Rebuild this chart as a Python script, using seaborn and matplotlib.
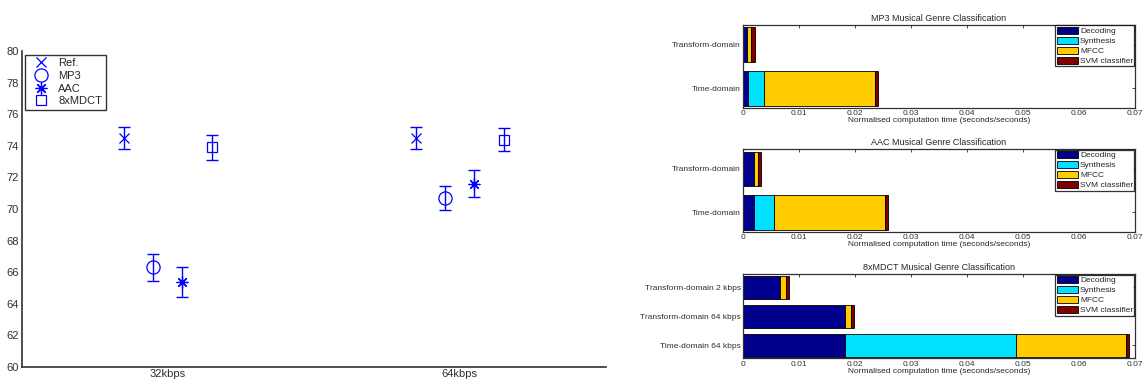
import numpy as np
import matplotlib
matplotlib.use('Agg')
import matplotlib.pyplot as plt
import seaborn as sns

# accuracy (%) with error bars, grouped by bitrate
BITRATES = ['32kbps', '64kbps']
CODECS = ['Ref.', 'MP3', 'AAC', '8xMDCT']
ACC_MEAN = {
    'Ref.':   [74.5, 74.5],
    'MP3':    [66.3, 70.7],
    'AAC':    [65.4, 71.6],
    '8xMDCT': [73.9, 74.4],
}
ACC_ERR = {
    'Ref.':   [0.7, 0.7],
    'MP3':    [0.87, 0.74],
    'AAC':    [0.95, 0.85],
    '8xMDCT': [0.8, 0.75],
}

# computation time breakdown (seconds/seconds)
STAGES = ['Decoding', 'Synthesis', 'MFCC', 'SVM classifier']
STAGE_COLORS = ['#00008C', '#00E0FF', '#FFCC00', '#800000']

MP3_LABELS = ['Transform-domain', 'Time-domain']
MP3_TIMES = {
    'Decoding':       [0.0007, 0.0008],
    'Synthesis':      [0.0, 0.0030],
    'MFCC':           [0.0008, 0.0198],
    'SVM classifier': [0.0006, 0.0005],
}
AAC_LABELS = ['Transform-domain', 'Time-domain']
AAC_TIMES = {
    'Decoding':       [0.0020, 0.0020],
    'Synthesis':      [0.0, 0.0035],
    'MFCC':           [0.0006, 0.0199],
    'SVM classifier': [0.0006, 0.0005],
}
MDCT_LABELS = ['Transform-domain 2 kbps', 'Transform-domain 64 kbps', 'Time-domain 64 kbps']
MDCT_TIMES = {
    'Decoding':       [0.0066, 0.0182, 0.0183],
    'Synthesis':      [0.0, 0.0, 0.0304],
    'MFCC':           [0.0011, 0.0011, 0.0197],
    'SVM classifier': [0.0005, 0.0005, 0.0006],
}

sns.set_theme(style='white')
plt.rcParams['font.family'] = ['Liberation Sans', 'DejaVu Sans']
plt.rcParams['axes.edgecolor'] = '#303030'
plt.rcParams['xtick.color'] = '#303030'
plt.rcParams['ytick.color'] = '#303030'

fig = plt.figure(figsize=(11.44, 3.85), dpi=100)

# ---- left: accuracy per codec ----
ax = fig.add_axes([0.019, 0.0475, 0.5105, 0.8193])
offsets = [-0.15, -0.05, 0.05, 0.15]
markers = ['x', 'o', (8, 2, 0), 's']
msizes = [7, 9.5, 8.5, 7]
xbase = np.arange(1, len(BITRATES) + 1)
for codec, off, mk, ms in zip(CODECS, offsets, markers, msizes):
    xs = xbase + off
    ax.errorbar(xs, ACC_MEAN[codec], yerr=ACC_ERR[codec], fmt='none',
                ecolor='#0000FF', elinewidth=1, capsize=4, capthick=1)
    ax.plot(xs, ACC_MEAN[codec], linestyle='none', marker=mk, markersize=ms,
            markerfacecolor='none', markeredgecolor='#0000FF', color='#0000FF',
            markeredgewidth=0.9, label=codec)
ax.set_xlim(0.5, 2.5)
ax.set_ylim(60, 80)
ax.set_xticks(xbase)
ax.set_xticklabels(BITRATES)
ax.set_yticks(np.arange(60, 81, 2))
ax.tick_params(direction='in', labelsize=8, length=4, width=0.8, pad=2)
sns.despine(ax=ax)
for s in ['left', 'bottom']:
    ax.spines[s].set_linewidth(1.2)
leg = ax.legend(loc='upper left', fontsize=8, frameon=True, fancybox=False,
                edgecolor='black', borderaxespad=0.3, handlelength=2.2,
                handletextpad=0.5, labelspacing=0.25, borderpad=0.3)
leg.get_frame().set_linewidth(1)

# ---- right: stacked computation time ----
def time_panel(rect, title, labels, times):
    a = fig.add_axes(rect)
    ypos = np.arange(len(labels), 0, -1)
    left = np.zeros(len(labels))
    for stage, col in zip(STAGES, STAGE_COLORS):
        vals = np.array(times[stage])
        a.barh(ypos, vals, left=left, height=0.8, color=col,
               edgecolor='black', linewidth=0.6, label=stage)
        left += vals
    a.set_xlim(0, 0.07)
    a.set_ylim(0.55, len(labels) + 0.45)
    a.set_xticks(np.arange(0, 0.0701, 0.01))
    a.set_xticklabels(['0'] + ['%.2f' % v for v in np.arange(0.01, 0.0701, 0.01)])
    a.set_yticks(ypos)
    a.set_yticklabels(labels)
    a.tick_params(direction='in', labelsize=6, length=2.5, width=0.6, pad=1.5,
                  top=True, right=True)
    for s in a.spines.values():
        s.set_linewidth(0.9)
    a.set_title(title, fontsize=6.5, pad=3)
    a.set_xlabel('Normalised computation time (seconds/seconds)', fontsize=6, labelpad=0)
    lg = a.legend(loc='upper right', fontsize=6, frameon=True, fancybox=False,
                  edgecolor='black', borderaxespad=0.05, handlelength=2.6,
                  handleheight=0.9, handletextpad=0.2, labelspacing=0.2,
                  borderpad=0.15)
    lg.get_frame().set_linewidth(0.9)
    return a

time_panel([0.6495, 0.720, 0.3425, 0.215], 'MP3 Musical Genre Classification',
           MP3_LABELS, MP3_TIMES)
time_panel([0.6495, 0.398, 0.3425, 0.214], 'AAC Musical Genre Classification',
           AAC_LABELS, AAC_TIMES)
time_panel([0.6495, 0.069, 0.3425, 0.2185], '8xMDCT Musical Genre Classification',
           MDCT_LABELS, MDCT_TIMES)

fig.savefig('out.png', dpi=100)
